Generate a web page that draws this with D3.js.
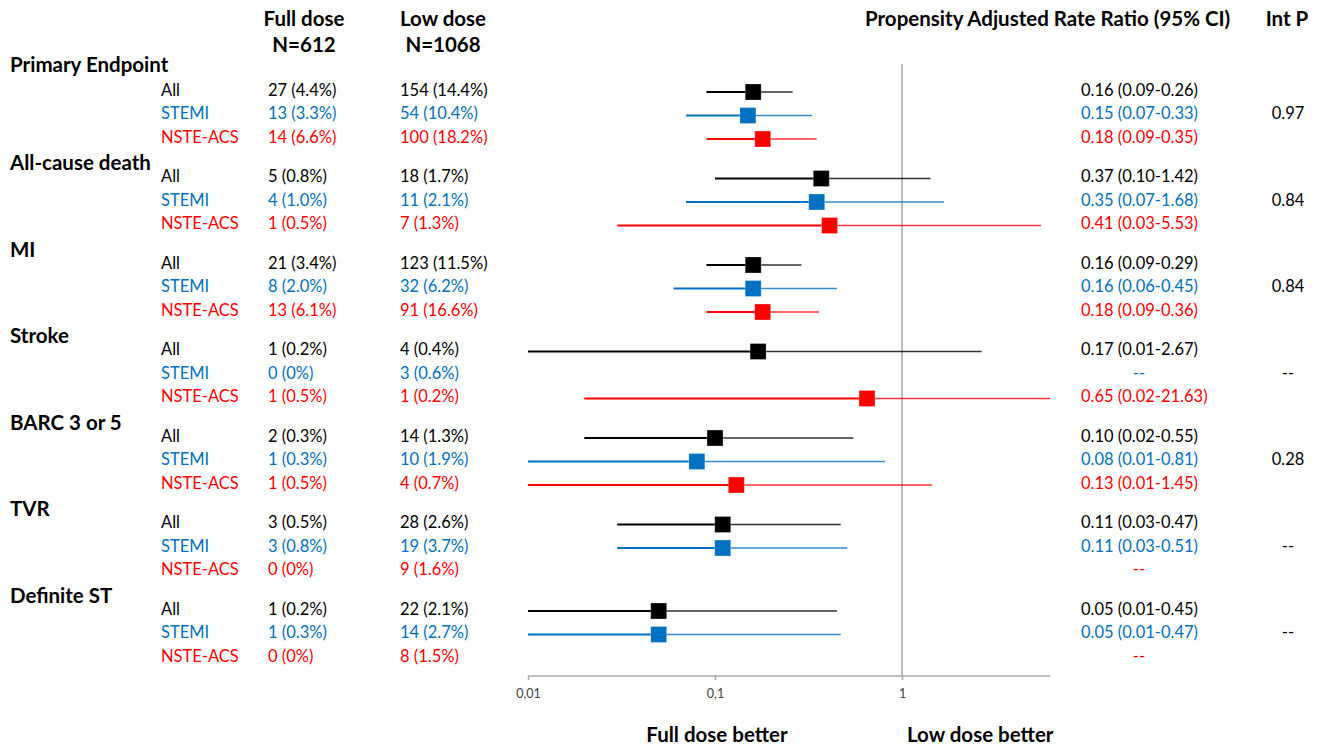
<!DOCTYPE html>
<html>
<head>
<meta charset="utf-8">
<script src="https://cdn.jsdelivr.net/npm/d3@7"></script>
<style>
  html, body { margin: 0; padding: 0; background: #fff; }
  svg { display: block; }
  text { font-family: Lato, "Open Sans", sans-serif; }
</style>
</head>
<body>
<svg id="chart" width="1321" height="749"></svg>
<script>
// Outcome groups and patient subgroups
const groups = ["Primary Endpoint", "All-cause death", "MI", "Stroke", "BARC 3 or 5", "TVR", "Definite ST"];
const subgroups = ["All", "STEMI", "NSTE-ACS"];

// Event counts and percentages, full dose arm (N=612)
const fullEvents = [[27, 13, 14], [5, 4, 1], [21, 8, 13], [1, 0, 1], [2, 1, 1], [3, 3, 0], [1, 1, 0]];
const fullPct = [[4.4, 3.3, 6.6], [0.8, 1.0, 0.5], [3.4, 2.0, 6.1], [0.2, 0, 0.5], [0.3, 0.3, 0.5], [0.5, 0.8, 0], [0.2, 0.3, 0]];

// Event counts and percentages, low dose arm (N=1068)
const lowEvents = [[154, 54, 100], [18, 11, 7], [123, 32, 91], [4, 3, 1], [14, 10, 4], [28, 19, 9], [22, 14, 8]];
const lowPct = [[14.4, 10.4, 18.2], [1.7, 2.1, 1.3], [11.5, 6.2, 16.6], [0.4, 0.6, 0.2], [1.3, 1.9, 0.7], [2.6, 3.7, 1.6], [2.1, 2.7, 1.5]];

// Propensity adjusted rate ratios with 95% CI (null = not estimable)
const rateRatio = [[0.16, 0.15, 0.18], [0.37, 0.35, 0.41], [0.16, 0.16, 0.18], [0.17, null, 0.65], [0.10, 0.08, 0.13], [0.11, 0.11, null], [0.05, 0.05, null]];
const ciLow = [[0.09, 0.07, 0.09], [0.10, 0.07, 0.03], [0.09, 0.06, 0.09], [0.01, null, 0.02], [0.02, 0.01, 0.01], [0.03, 0.03, null], [0.01, 0.01, null]];
const ciHigh = [[0.26, 0.33, 0.35], [1.42, 1.68, 5.53], [0.29, 0.45, 0.36], [2.67, null, 21.63], [0.55, 0.81, 1.45], [0.47, 0.51, null], [0.45, 0.47, null]];

// Interaction p-values per outcome
const intP = ["0.97", "0.84", "0.84", "--", "0.28", "--", "--"];

// Axis ticks
const tickValues = [0.01, 0.1, 1];
const tickLabels = ["0,01", "0,1", "1"];
const axisMax = 6.2;

const colors = ["#000000", "#0070C0", "#FF0000"];
const textColors = ["#000000", "#0070C0", "#FF0000"];

const svg = d3.select("#chart");

// Scales
const x = d3.scaleLog().domain([0.01, 1]).range([528, 902]);
const yGroup = d3.scaleLinear().domain([0, groups.length - 1]).range([90, 609]);
const yRow = d3.scalePoint().domain(subgroups).range([0, 47]);
const axisY = 676;

const regFont = 16.5;
const boldFont = 20.5;

const fmtCount = (n, p) => `${n} (${p === 0 ? "0" : p.toFixed(1)}%)`;
const fmtRR = (r, l, h) => `${r.toFixed(2)} (${l.toFixed(2)}-${h.toFixed(2)})`;

// Column headers
const hdr = svg.append("g").attr("font-weight", "bold").attr("font-size", boldFont).attr("fill", "#000");
hdr.append("text").attr("x", 304).attr("y", 19).attr("dy", "0.36em").attr("text-anchor", "middle").text("Full dose");
hdr.append("text").attr("x", 304).attr("y", 45).attr("dy", "0.36em").attr("text-anchor", "middle").text("N=612");
hdr.append("text").attr("x", 443).attr("y", 19).attr("dy", "0.36em").attr("text-anchor", "middle").text("Low dose");
hdr.append("text").attr("x", 443).attr("y", 45).attr("dy", "0.36em").attr("text-anchor", "middle").text("N=1068");
hdr.append("text").attr("x", 865).attr("y", 19).attr("dy", "0.36em").text("Propensity Adjusted Rate Ratio (95% CI)");
hdr.append("text").attr("x", 1287).attr("y", 19).attr("dy", "0.36em").attr("text-anchor", "middle").text("Int P");

// Reference line at rate ratio 1
svg.append("line")
  .attr("x1", x(1)).attr("x2", x(1))
  .attr("y1", 64).attr("y2", axisY)
  .attr("stroke", "#A6A6A6").attr("stroke-width", 1.5);

// Axis
const axis = svg.append("g").attr("transform", `translate(0,${axisY})`)
  .call(d3.axisBottom(x).tickValues(tickValues).tickFormat((d, i) => tickLabels[i]).tickSize(4).tickPadding(9).tickSizeOuter(0));
axis.select(".domain").remove();
axis.append("line").attr("x1", x(0.01)).attr("x2", x(axisMax)).attr("y1", 0).attr("y2", 0)
  .attr("stroke", "#A6A6A6").attr("stroke-width", 1.5);
axis.selectAll(".tick line").attr("stroke", "#A6A6A6").attr("stroke-width", 1.5);
axis.selectAll(".tick text").attr("font-family", "Lato, sans-serif").attr("font-size", 12.5).attr("fill", "#404040");

// Clip CI lines to the plotted axis range
svg.append("clipPath").attr("id", "plotClip")
  .append("rect").attr("x", x(0.01) - 1).attr("y", 0).attr("width", x(axisMax) - x(0.01) + 1).attr("height", 749);

const plot = svg.append("g").attr("clip-path", "url(#plotClip)");

// Groups
groups.forEach((g, gi) => {
  const gy = yGroup(gi);
  svg.append("text")
    .attr("x", 10).attr("y", gi === 0 ? 65 : gy - 13.5).attr("dy", "0.36em")
    .attr("font-weight", "bold").attr("font-size", boldFont).attr("fill", "#000")
    .text(g);

  subgroups.forEach((s, si) => {
    const cy = gy + yRow(s);
    const col = textColors[si];
    const row = svg.append("g").attr("font-size", regFont).attr("fill", col);
    row.append("text").attr("x", 161).attr("y", cy).attr("dy", "0.36em").text(s);
    row.append("text").attr("x", 268).attr("y", cy).attr("dy", "0.36em").text(fmtCount(fullEvents[gi][si], fullPct[gi][si]));
    row.append("text").attr("x", 400).attr("y", cy).attr("dy", "0.36em").text(fmtCount(lowEvents[gi][si], lowPct[gi][si]));

    const r = rateRatio[gi][si];
    if (r === null) {
      row.append("text").attr("x", 1139).attr("y", cy).attr("dy", "0.36em").attr("text-anchor", "middle").text("--");
    } else {
      row.append("text").attr("x", 1081).attr("y", cy).attr("dy", "0.36em").text(fmtRR(r, ciLow[gi][si], ciHigh[gi][si]));
      const my = cy + 2;
      // lower and upper CI segments
      plot.append("line").attr("x1", x(ciLow[gi][si])).attr("x2", x(r)).attr("y1", my).attr("y2", my)
        .attr("stroke", colors[si]).attr("stroke-width", 2);
      plot.append("line").attr("x1", x(r)).attr("x2", x(ciHigh[gi][si])).attr("y1", my).attr("y2", my)
        .attr("stroke", colors[si]).attr("stroke-width", 1.6).attr("stroke-opacity", 0.8);
      // point estimate
      const sz = 16;
      svg.append("rect").attr("x", x(r) - sz / 2).attr("y", my - sz / 2).attr("width", sz).attr("height", sz)
        .attr("fill", colors[si]).attr("stroke", "#fff").attr("stroke-opacity", 0.35).attr("stroke-width", 0.8);
    }

    if (si === 1) {
      svg.append("text").attr("x", 1288).attr("y", cy).attr("dy", "0.36em").attr("text-anchor", "middle")
        .attr("font-size", regFont).attr("fill", "#000").text(intP[gi]);
    }
  });
});

// Direction labels
const dir = svg.append("g").attr("font-weight", "bold").attr("font-size", boldFont).attr("fill", "#000");
dir.append("text").attr("x", 717).attr("y", 735).attr("dy", "0.36em").attr("text-anchor", "middle").text("Full dose better");
dir.append("text").attr("x", 907).attr("y", 735).attr("dy", "0.36em").text("Low dose better");
</script>
</body>
</html>
